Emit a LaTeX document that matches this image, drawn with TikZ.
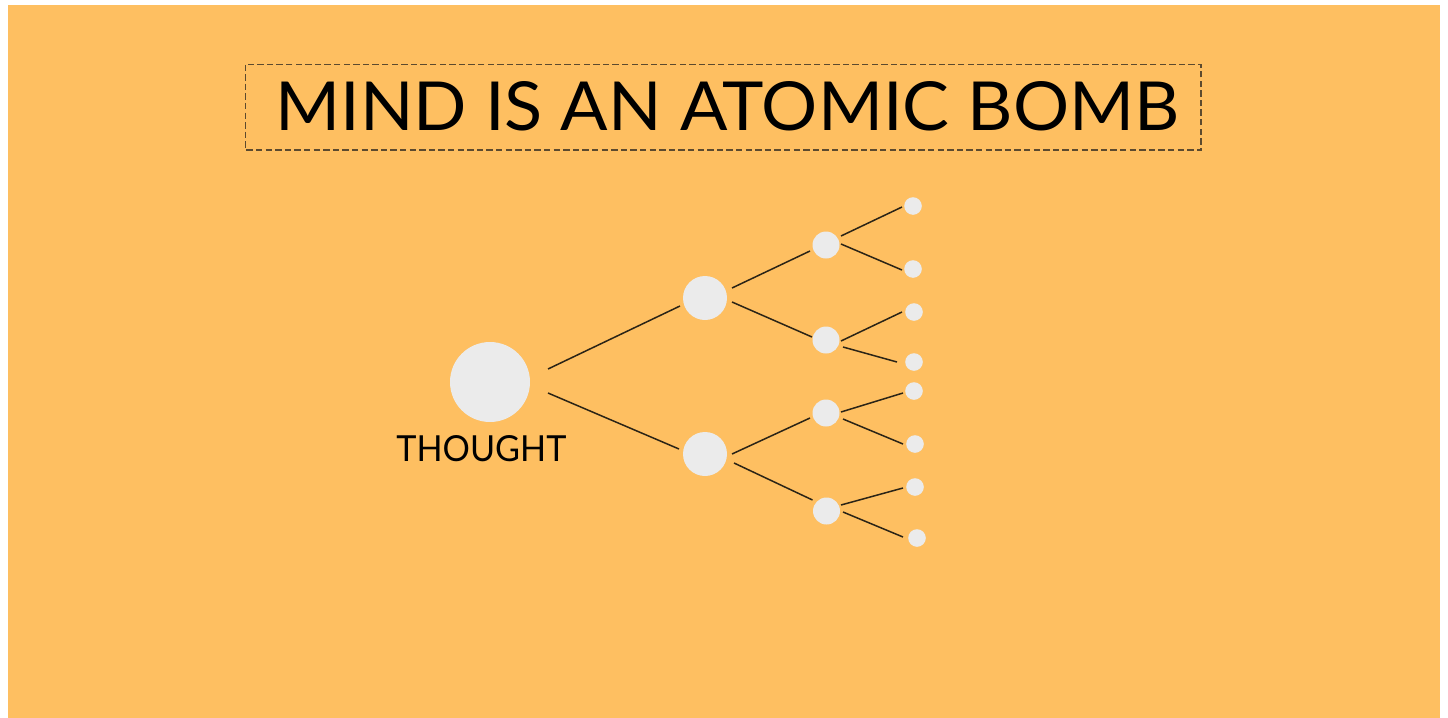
\documentclass[tikz,border=0pt]{standalone}
\usepackage{fontspec}
\setmainfont{Lato}
\usepackage{graphicx}
\definecolor{bgorange}{HTML}{FEBF61}
\definecolor{dotgrey}{HTML}{EBEBEB}
\definecolor{linedark}{HTML}{2B2416}
\definecolor{dashcol}{HTML}{5C4A2E}
\tikzset{
  dot/.style={circle, fill=dotgrey, draw=none, inner sep=0pt, minimum size=#1},
  link/.style={draw=linedark, line width=0.75pt},
  titlebox/.style={draw=dashcol, line width=0.65pt, dash pattern=on 3.2pt off 1.6pt},
}
\newcommand\lnk[6]{\draw[link] ([shift={(#2,#3)}]#1.center) -- ([shift={(#5,#6)}]#4.center);}
\begin{document}
\begin{tikzpicture}[x=0.5pt,y=-0.5pt]
\useasboundingbox (0,0) rectangle (1448,718);
\fill[white] (0,0) rectangle (1448,718);
\fill[bgorange] (8,5) rectangle (1440,718);
% title
\draw[titlebox] (245.5,64.5) rectangle (1201,150);
\node[inner sep=0pt, anchor=south west] (title) at (275,131)
  {\resizebox{452pt}{24.5pt}{\fontsize{36pt}{40pt}\selectfont MIND IS AN ATOMIC BOMB}};
% nodes
\node[dot=40pt] (big) at (490,382) {};
\node[inner sep=0pt, anchor=south west] (thought) at (396,462)
  {\resizebox{85pt}{13pt}{\fontsize{19pt}{22pt}\selectfont THOUGHT}};
\node[dot=22pt] (m1) at (705,298) {};
\node[dot=22pt] (m2) at (705,454) {};
\node[dot=13.5pt] (a) at (826,245) {};
\node[dot=13.5pt] (b) at (826,340) {};
\node[dot=13.5pt] (c) at (826,413) {};
\node[dot=13.5pt] (d) at (826.5,511) {};
\node[dot=8.8pt] (l1) at (913,206) {};
\node[dot=8.8pt] (l2) at (913,269) {};
\node[dot=8.8pt] (l3) at (914,312) {};
\node[dot=8.8pt] (l4) at (914,362) {};
\node[dot=8.8pt] (l5) at (914,391) {};
\node[dot=8.8pt] (l6) at (915,444) {};
\node[dot=8.8pt] (l7) at (915,487) {};
\node[dot=8.8pt] (l8) at (917,538) {};
% links
\lnk{big}{58}{-13}{m1}{-25}{8}
\lnk{big}{58}{11}{m2}{-26}{-5}
\lnk{m1}{27}{-10}{a}{-16}{6}
\lnk{m1}{27}{4}{b}{-14}{-3}
\lnk{m2}{27}{0}{c}{-16}{5}
\lnk{m2}{29}{9}{d}{-14}{-11}
\lnk{a}{15}{-9}{l1}{-11}{1}
\lnk{a}{15}{-1}{l2}{-11}{1}
\lnk{b}{15}{1}{l3}{-12}{0}
\lnk{b}{17}{7}{l4}{-17}{0}
\lnk{c}{15}{-1}{l5}{-11}{2}
\lnk{c}{17}{6}{l6}{-12}{0}
\lnk{d}{14.5}{-6}{l7}{-12}{1}
\lnk{d}{16.5}{1}{l8}{-14}{-1}
\end{tikzpicture}
\end{document}
